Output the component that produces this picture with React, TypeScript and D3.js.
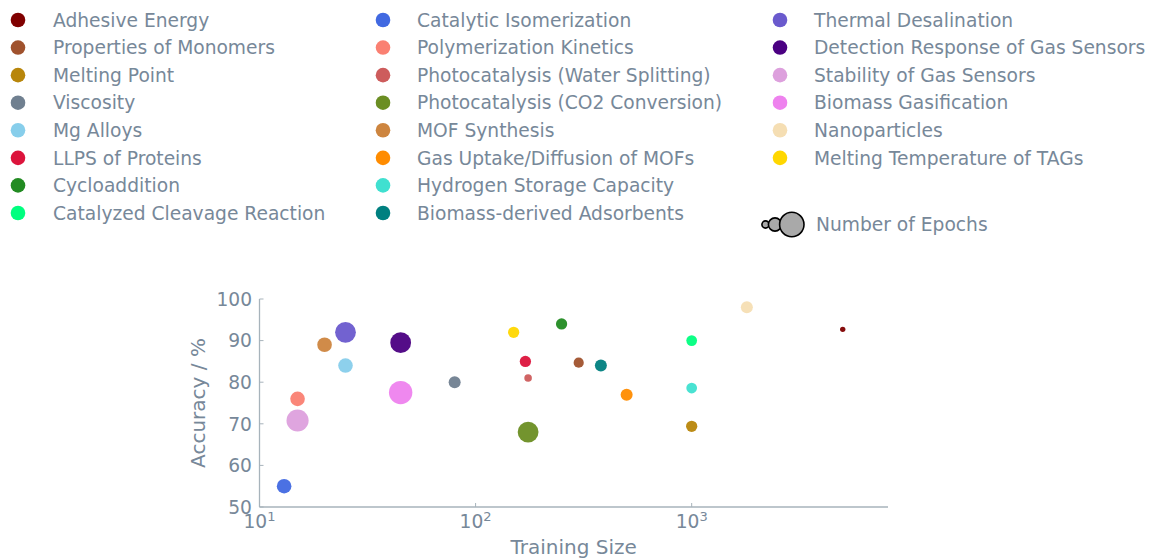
import React from 'react';
import * as d3 from 'd3';

const categories = [
  'Adhesive Energy', 'Properties of Monomers', 'Melting Point', 'Viscosity',
  'Mg Alloys', 'LLPS of Proteins', 'Cycloaddition', 'Catalyzed Cleavage Reaction',
  'Catalytic Isomerization', 'Polymerization Kinetics', 'Photocatalysis (Water Splitting)',
  'Photocatalysis (CO2 Conversion)', 'MOF Synthesis', 'Gas Uptake/Diffusion of MOFs',
  'Hydrogen Storage Capacity', 'Biomass-derived Adsorbents',
  'Thermal Desalination', 'Detection Response of Gas Sensors', 'Stability of Gas Sensors',
  'Biomass Gasification', 'Nanoparticles', 'Melting Temperature of TAGs',
];

const colors = [
  '#800000', '#a0522d', '#b8860b', '#708090', '#87ceeb', '#dc143c', '#228b22', '#00ff7f',
  '#4169e1', '#fa8072', '#cd5c5c', '#6b8e23', '#cd853f', '#ff8c00', '#40e0d0', '#008080',
  '#6a5acd', '#4b0082', '#dda0dd', '#ee82ee', '#f5deb3', '#ffd700',
];

const trainingSize = [
  5000, 300, 1000, 80, 25, 170, 250, 1000,
  13, 15, 175, 175, 20, 500, 1000, 380,
  25, 45, 15, 45, 1800, 150,
];

const accuracy = [
  92.7, 84.7, 69.4, 80, 84, 85, 94, 90,
  55, 76, 81, 68, 89, 77, 78.6, 84,
  92, 89.5, 70.8, 77.5, 98, 92,
];

const epochs = [
  5, 18, 22, 25, 37, 22, 22, 20,
  37, 37, 10, 75, 37, 25, 20, 25,
  75, 75, 85, 95, 25, 22,
];

const yTicks = [50, 60, 70, 80, 90, 100];
const xTicks = [10, 100, 1000];
const epochLegend = [8, 30, 105];

const W = 1149;
const H = 560;
const textColor = '#778899';
const spineColor = '#a7b3bb';
const font = 'DejaVu Sans, sans-serif';

export default function App() {
  const x = d3.scaleLog().domain([10, 8100]).range([259.5, 888]);
  const y = d3.scaleLinear().domain([50, 100]).range([507, 299]);
  const r = d3.scaleSqrt().domain([0, 100]).range([0, 12]);

  const legendCols = [
    { mx: 18, tx: 53, items: d3.range(0, 8) },
    { mx: 383, tx: 417, items: d3.range(8, 16) },
    { mx: 780, tx: 814, items: d3.range(16, 22) },
  ];
  const rowY = (i: number) => 20 + i * 27.57;

  const points = d3.range(categories.length);

  return (
    <svg width={W} height={H} style={{ position: 'absolute', left: 0, top: 0, background: '#fff' }}
      fontFamily={font}>
      {/* legend */}
      {legendCols.map((col, ci) => (
        <g key={ci}>
          {col.items.map((idx, ri) => (
            <g key={idx}>
              <circle cx={col.mx} cy={rowY(ri)} r={7.3} fill={colors[idx]} />
              <text x={col.tx} y={rowY(ri)} dy="0.36em" fontSize={18.67} fill={textColor}>
                {categories[idx]}
              </text>
            </g>
          ))}
        </g>
      ))}
      <g>
        {[{ cx: 765.5, rr: 3.6 }, { cx: 775, rr: 6.6 }, { cx: 791.8, rr: 12.2 }].map((c, i) => (
          <circle key={epochLegend[i]} cx={c.cx} cy={224.5} r={c.rr} fill="#a9a9a9" stroke="#000" strokeWidth={1.6} />
        ))}
        <text x={816} y={224.5} dy="0.36em" fontSize={18.67} fill={textColor}>Number of Epochs</text>
      </g>

      {/* axes */}
      <line x1={259.5} x2={259.5} y1={y(100)} y2={y(50)} stroke={spineColor} strokeWidth={1.3} />
      <line x1={259.5} x2={888} y1={507} y2={507} stroke={spineColor} strokeWidth={1.3} />
      {yTicks.map(t => (
        <g key={t}>
          <line x1={259.5} x2={263.5} y1={y(t)} y2={y(t)} stroke={spineColor} strokeWidth={1} />
          <text x={252} y={y(t)} dy="0.36em" textAnchor="end" fontSize={18.67} fill={textColor}>{t}</text>
        </g>
      ))}
      {xTicks.map(t => (
        <g key={t}>
          <line x1={x(t)} x2={x(t)} y1={507} y2={503} stroke={spineColor} strokeWidth={1} />
          <text x={x(t)} y={528} textAnchor="middle" fontSize={18.67} fill={textColor}>
            10<tspan dy={-7} fontSize={13}>{Math.round(Math.log10(t))}</tspan>
          </text>
        </g>
      ))}
      <text x={573.7} y={554} textAnchor="middle" fontSize={20} fill={textColor}>Training Size</text>
      <text transform={`translate(205,${403}) rotate(-90)`} textAnchor="middle" fontSize={20} fill={textColor}>
        Accuracy / %
      </text>

      {/* points */}
      {points.map(i => (
        <circle key={i} cx={x(trainingSize[i])} cy={y(accuracy[i])} r={r(epochs[i])}
          fill={colors[i]} fillOpacity={0.95} />
      ))}
    </svg>
  );
}
